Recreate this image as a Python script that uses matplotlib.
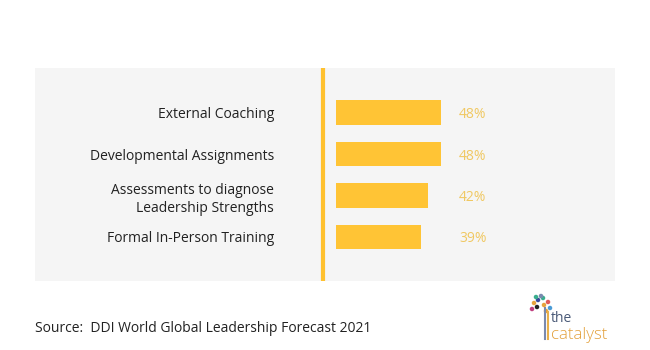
import matplotlib.pyplot as plt
import numpy as np

plt.rcParams["font.family"] = ["Open Sans", "DejaVu Sans"]

categories = [
    "External Coaching",
    "Developmental Assignments",
    "Assessments to diagnose\nLeadership Strengths",
    "Formal In-Person Training",
]
values = [48, 48, 42, 39]

W, H = 650, 350
fig = plt.figure(figsize=(W / 100, H / 100), dpi=100)
fig.patch.set_facecolor("white")

# panel: x 35..615, y 68..281 (pixels from top)
ax = fig.add_axes([35 / W, 1 - 281 / H, 580 / W, 213 / H])
ax.set_facecolor("#F5F5F5")
for s in ax.spines.values():
    s.set_visible(False)
ax.set_xticks([])
ax.set_yticks([])

scale = 105 / 48  # px per %
ax.set_xlim(-(336 - 35) / scale, (615 - 336) / scale)
ax.set_ylim(3 + 44 / 41.5, -44.5 / 41.5)

y = np.arange(len(values))
ax.barh(y, values, height=0.6, color="#FFC435")
ax.axvline(-13 / scale, color="#FFC12F", lw=3)

for yi, cat, v in zip(y, categories, values):
    ax.annotate(cat, (0, yi), xytext=(-62, 0), textcoords="offset pixels",
                ha="right", va="center_baseline", fontsize=10, color="#222222",
                linespacing=1.3)
    ax.annotate(f"{v}%", (48, yi), xytext=(18, 0), textcoords="offset pixels",
                ha="left", va="center_baseline", fontsize=10, color="#F0C862")

fig.text(35 / W, 1 - 326 / H, "Source:  DDI World Global Leadership Forecast 2021",
         ha="left", va="center_baseline", fontsize=10, color="#222222")

# logo
fig.text(551 / W, 1 - 316 / H, "the", ha="left", va="center_baseline",
         fontsize=10, color="#4A5A78")
fig.text(551 / W, 1 - 333 / H, "catalyst", ha="left", va="center_baseline",
         fontsize=12.2, color="#E3A03A", fontweight="light")
lx = fig.add_axes([0, 0, 1, 1], facecolor="none")
lx.set_xlim(0, W)
lx.set_ylim(H, 0)
lx.axis("off")
lx.plot([545, 545], [308, 339], color="#7A8AAE", lw=1.5)
lx.plot([548, 548], [312, 339], color="#E8B04A", lw=1.5)
dots_x = [534, 538, 543, 548, 532, 537, 544, 550, 541, 536, 546]
dots_y = [303, 300, 298, 302, 309, 307, 305, 308, 296, 297, 311]
dots_c = ["#E8A33D", "#3B4A9B", "#3AAE8E", "#E05A5A", "#C04080",
          "#222222", "#E8A33D", "#4A9BD6", "#7A8AAE", "#3AAE8E", "#E8A33D"]
lx.scatter(dots_x, dots_y, s=5, c=dots_c)

fig.savefig("out.png", dpi=100)
